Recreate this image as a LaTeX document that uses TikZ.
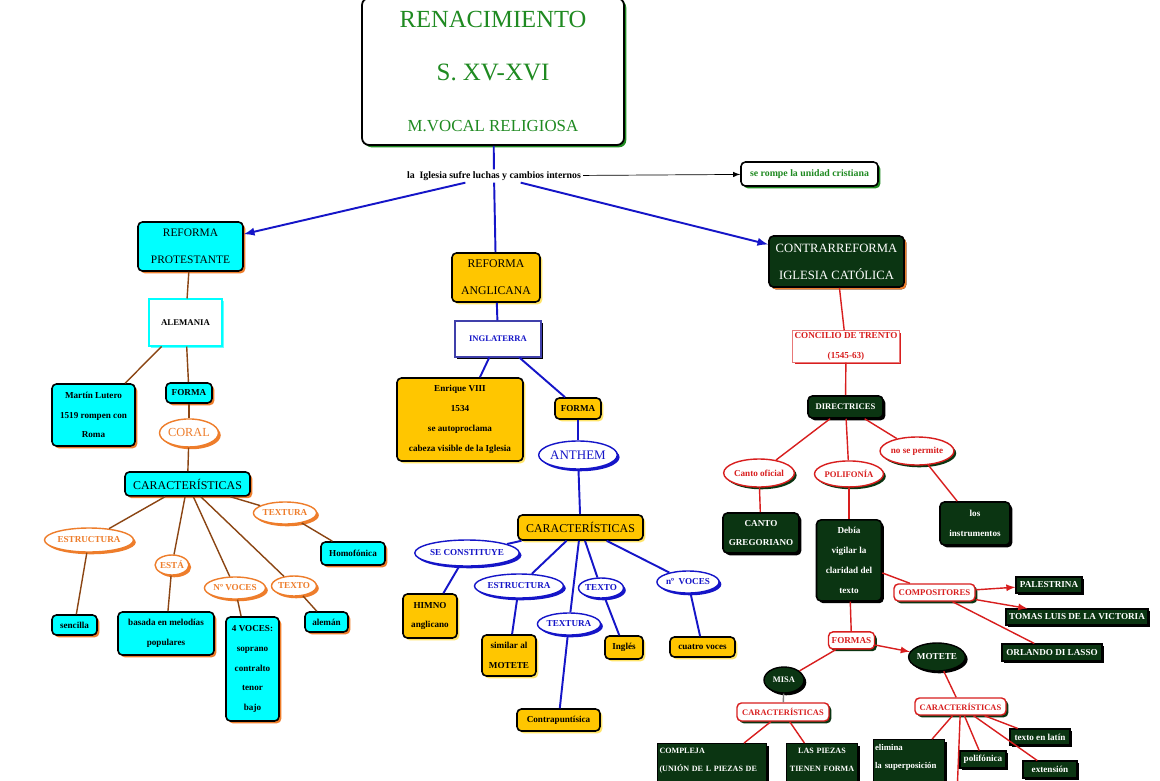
\documentclass[tikz,border=0pt]{standalone}
\usepackage{fontspec}
\setmainfont{Liberation Serif}
\usepackage{tikz}
\usetikzlibrary{shapes,arrows,shadows}
\definecolor{cian}{HTML}{00FFFF}
\definecolor{oro}{HTML}{FFC600}
\definecolor{oroclaro}{HTML}{FFE56A}
\definecolor{verdeosc}{HTML}{0B3512}
\definecolor{verdetit}{HTML}{1F8A21}
\definecolor{naranja}{HTML}{EE7D2B}
\definecolor{marron}{HTML}{8B4513}
\definecolor{azul}{HTML}{1515C8}
\definecolor{rojo}{HTML}{D81E1E}
\tikzset{sombra/.style = {drop shadow = {shadow xshift = 1.3pt, shadow yshift = -1.3pt, fill = #1, opacity = 1}}}
\tikzstyle{titulo} = [rectangle, draw, line width = 1pt, rounded corners = 4pt, fill = white, text = verdetit, align = center, sombra = verdetit]
\tikzstyle{blancoverde} = [rectangle, draw, line width = 0.9pt, rounded corners = 2.5pt, fill = white, text = verdetit, sombra = verdetit]
\tikzstyle{cianblock} = [rectangle, draw, line width = 0.9pt, rounded corners = 2.5pt, fill = cian, align = center, inner sep = 1pt, sombra = naranja]
\tikzstyle{cajacian} = [rectangle, draw = cian, line width = 0.6pt, fill = white, sombra = cian!60]
\tikzstyle{oroblock} = [rectangle, draw, line width = 0.9pt, rounded corners = 2.5pt, fill = oro, align = center, inner sep = 1pt, sombra = oroclaro]
\tikzstyle{cajaazul} = [rectangle, draw = azul!60!gray, line width = 0.6pt, fill = white, text = azul, sombra = black]
\tikzstyle{verdeblock} = [rectangle, draw, line width = 0.9pt, rounded corners = 2.5pt, fill = verdeosc, text = white, align = center, inner sep = 1pt, sombra = black]
\tikzstyle{verdecaja} = [rectangle, draw, line width = 0.6pt, fill = verdeosc, text = white, align = center, inner sep = 1pt, sombra = black]
\tikzstyle{cajaroja} = [rectangle, draw = rojo!60, line width = 0.6pt, fill = white, text = rojo, align = center, inner sep = 1pt, sombra = rojo]
\tikzstyle{rojoblock} = [rectangle, draw = rojo, line width = 0.8pt, rounded corners = 2.5pt, fill = white, text = rojo, inner sep = 1pt, sombra = verdeosc]
\tikzstyle{naranjaelipse} = [ellipse, draw = naranja, line width = 0.8pt, fill = white, text = naranja, inner sep = 0pt, sombra = naranja]
\tikzstyle{azulelipse} = [ellipse, draw = azul, line width = 0.8pt, fill = white, text = azul, inner sep = 0pt, sombra = azul]
\tikzstyle{rojoelipse} = [ellipse, draw = rojo, line width = 0.8pt, fill = white, text = rojo, inner sep = 0pt, sombra = verdeosc]
\tikzstyle{verdeelipse} = [ellipse, draw, line width = 0.8pt, fill = verdeosc, text = white, inner sep = 0pt, sombra = black]
\tikzstyle{lineamarron} = [draw = marron, line width = 0.8pt]
\tikzstyle{lineaazul} = [draw = azul, line width = 1.1pt]
\tikzstyle{linearoja} = [draw = rojo, line width = 0.8pt]
\begin{document}
\begin{tikzpicture}[x = 0.02cm, y = -0.02cm]
\tikzstyle{every node}=[font=\fontsize{5.2}{11.3}\selectfont\bfseries];
\useasboundingbox (0,0) rectangle (1160,781);
\clip (0,0) rectangle (1160,781);
\fill [white] (0,0) rectangle (1160,781);
% cabecera
\node [titulo, minimum width = 5.24cm, minimum height = 2.94cm, font = \fontsize{13}{13}\selectfont] (renacimiento) at (493,71.5) {{\fontsize{14}{14}\selectfont RENACIMIENTO}\\[17pt] {\fontsize{14.2}{14.2}\selectfont S. XV-XVI}\\[16pt] {\fontsize{9.6}{9.6}\selectfont M.VOCAL RELIGIOSA}};
\node [fill = white, inner sep = 1pt, font = \fontsize{5.6}{6}\selectfont\bfseries] (luchas) at (494,176) {la\ \ Iglesia sufre luchas y cambios internos};
\node [blancoverde, minimum width = 2.74cm, minimum height = 0.48cm, font = \fontsize{5.6}{6}\selectfont\bfseries] (unidad) at (809.5,174) {se rompe la unidad cristiana};
% reforma protestante
\node [cianblock, minimum width = 2.1cm, minimum height = 0.98cm, font = \fontsize{6.5}{15.3}\selectfont] (protestante) at (190.5,246.5) {REFORMA\\PROTESTANTE};
\node [cajacian, below of = protestante, node distance = 1.52cm, xshift = -0.1cm, minimum width = 1.46cm, minimum height = 0.94cm, font = \fontsize{5}{6}\selectfont\bfseries] (alemania) {ALEMANIA};
\node [cianblock, minimum width = 1.66cm, minimum height = 1.24cm] (lutero) at (93.5,415) {Martín Lutero\\1519 rompen con\\Roma};
\node [cianblock, below of = alemania, node distance = 1.41cm, xshift = 0.07cm, minimum width = 0.92cm, minimum height = 0.4cm] (formaprot) {FORMA};
\node [naranjaelipse, below of = formaprot, node distance = 0.8cm, minimum width = 1.04cm, minimum height = 0.56cm, font = \fontsize{7}{8}\selectfont] (coral) {CORAL};
\node [cianblock, below of = coral, node distance = 1.02cm, xshift = -0.03cm, minimum width = 2.5cm, minimum height = 0.48cm, font = \fontsize{6.8}{8}\selectfont] (caracprot) {CARACTERÍSTICAS};
\node [naranjaelipse, minimum width = 1.4cm, minimum height = 0.48cm] (estrprot) at (89,540) {ESTRUCTURA};
\node [naranjaelipse, minimum width = 0.64cm, minimum height = 0.4cm] (esta) at (172,565) {ESTÁ};
\node [naranjaelipse, minimum width = 1.04cm, minimum height = 0.44cm] (vocesprot) at (235,588) {Nº VOCES};
\node [naranjaelipse, minimum width = 0.8cm, minimum height = 0.4cm] (textoprot) at (294,586) {TEXTO};
\node [naranjaelipse, minimum width = 1.04cm, minimum height = 0.44cm] (texturaprot) at (285,513) {TEXTURA};
\node [cianblock, minimum width = 0.9cm, minimum height = 0.4cm] (sencilla) at (74.5,625) {sencilla};
\node [cianblock, minimum width = 1.92cm, minimum height = 0.86cm] (basada) at (166,633.5) {basada en melodías\\populares};
\node [cianblock, minimum width = 1.06cm, minimum height = 2.08cm] (cuatrovoces) at (252.5,669) {4 VOCES:\\soprano\\contralto\\tenor\\bajo};
\node [cianblock, minimum width = 0.86cm, minimum height = 0.4cm] (aleman) at (326.5,622) {alemán};
\node [cianblock, minimum width = 1.28cm, minimum height = 0.46cm] (homofonica) at (353,553.5) {Homofónica};
% reforma anglicana
\node [oroblock, minimum width = 1.76cm, minimum height = 0.98cm, font = \fontsize{6.7}{15.3}\selectfont] (anglicana) at (496,277.5) {REFORMA\\ANGLICANA};
\node [cajaazul, below of = anglicana, node distance = 1.23cm, xshift = 0.04cm, minimum width = 1.72cm, minimum height = 0.72cm, font = \fontsize{4.9}{6}\selectfont\bfseries] (inglaterra) {INGLATERRA};
\node [oroblock, minimum width = 2.52cm, minimum height = 1.66cm] (enrique) at (460,419.5) {Enrique VIII\\1534\\se autoproclama\\cabeza visible de la Iglesia};
\node [oroblock, minimum width = 0.92cm, minimum height = 0.42cm] (formaangl) at (578,408.5) {FORMA};
\node [azulelipse, below of = formaangl, node distance = 0.93cm, minimum width = 1.28cm, minimum height = 0.56cm, font = \fontsize{7.4}{8}\selectfont] (anthem) {ANTHEM};
\node [oroblock, below of = anthem, node distance = 1.45cm, xshift = 0.05cm, minimum width = 2.5cm, minimum height = 0.5cm, font = \fontsize{6.8}{8}\selectfont] (caracangl) {CARACTERÍSTICAS};
\node [azulelipse, minimum width = 1.6cm, minimum height = 0.52cm] (constituye) at (467,553) {SE CONSTITUYE};
\node [azulelipse, minimum width = 1.4cm, minimum height = 0.48cm] (estrangl) at (519,586) {ESTRUCTURA};
\node [azulelipse, minimum width = 1.04cm, minimum height = 0.44cm] (texturaangl) at (569,624) {TEXTURA};
\node [azulelipse, minimum width = 0.8cm, minimum height = 0.4cm] (textoangl) at (601,588) {TEXTO};
\node [azulelipse, minimum width = 1.12cm, minimum height = 0.44cm] (vocesangl) at (688,582) {nº\ \ VOCES};
\node [oroblock, minimum width = 1.08cm, minimum height = 0.88cm] (himno) at (430,616) {HIMNO\\anglicano};
\node [oroblock, minimum width = 1.08cm, minimum height = 0.82cm] (similar) at (509,655.5) {similar al\\MOTETE};
\node [oroblock, minimum width = 1.66cm, minimum height = 0.44cm] (contrapuntistica) at (558.5,720) {Contrapuntísica};
\node [oroblock, minimum width = 0.76cm, minimum height = 0.46cm] (ingles) at (624,647.5) {Inglés};
\node [oroblock, minimum width = 1.3cm, minimum height = 0.4cm] (cuatroangl) at (702.5,647) {cuatro voces};
% contrarreforma
\node [verdeblock, sombra = naranja, minimum width = 2.7cm, minimum height = 1.02cm, font = \fontsize{7.2}{15.3}\selectfont] (contrarreforma) at (836.5,261.5) {CONTRARREFORMA\\IGLESIA CATÓLICA};
\node [cajaroja, below of = contrarreforma, node distance = 1.7cm, xshift = 0.19cm, minimum width = 2.12cm, minimum height = 0.62cm] (concilio) {CONCILIO DE TRENTO\\(1545-63)};
\node [verdeblock, below of = concilio, node distance = 1.21cm, xshift = -0.01cm, minimum width = 1.5cm, minimum height = 0.44cm, font = \fontsize{4.9}{6}\selectfont\bfseries] (directrices) {DIRECTRICES};
\node [rojoelipse, minimum width = 1.28cm, minimum height = 0.56cm] (cantooficial) at (759,473) {Canto oficial};
\node [rojoelipse, below of = directrices, node distance = 1.34cm, xshift = 0.07cm, minimum width = 1.16cm, minimum height = 0.52cm, font = \fontsize{4.9}{6}\selectfont\bfseries] (polifonia) {POLIFONÍA};
\node [rojoelipse, minimum width = 1.36cm, minimum height = 0.56cm] (nopermite) at (917,451) {no se permite};
\node [verdeblock, minimum width = 1.52cm, minimum height = 0.8cm] (gregoriano) at (761,533) {CANTO\\GREGORIANO};
\node [verdeblock, below of = polifonia, node distance = 1.73cm, minimum width = 1.3cm, minimum height = 1.62cm] (claridad) {Debía\\vigilar la\\claridad del\\texto};
\node [verdeblock, minimum width = 1.4cm, minimum height = 0.86cm] (instrumentos) at (975,523.5) {los\\instrumentos};
\node [rojoblock, minimum width = 1.62cm, minimum height = 0.34cm, font = \fontsize{5}{6}\selectfont\bfseries] (compositores) at (934.5,592.5) {COMPOSITORES};
\node [verdecaja, minimum width = 1.32cm, minimum height = 0.32cm] (palestrina) at (1049,585) {PALESTRINA};
\node [verdecaja, minimum width = 2.84cm, minimum height = 0.32cm] (victoria) at (1077,617) {TOMAS LUIS DE LA VICTORIA};
\node [verdecaja, minimum width = 2cm, minimum height = 0.34cm] (lasso) at (1052,652.5) {ORLANDO DI LASSO};
\node [rojoblock, below of = claridad, node distance = 1.6cm, xshift = 0.05cm, minimum width = 0.92cm, minimum height = 0.34cm] (formas) {FORMAS};
\node [verdeelipse, minimum width = 0.8cm, minimum height = 0.52cm, font = \fontsize{4.8}{6}\selectfont\bfseries] (misa) at (784,680) {MISA};
\node [verdeelipse, minimum width = 1.08cm, minimum height = 0.56cm] (motete) at (937,657) {MOTETE};
\node [rojoblock, minimum width = 1.84cm, minimum height = 0.36cm, font = \fontsize{4.8}{6}\selectfont\bfseries] (caracmisa) at (783,712) {CARACTERÍSTICAS};
\node [rojoblock, minimum width = 1.82cm, minimum height = 0.34cm, font = \fontsize{4.8}{6}\selectfont\bfseries] (caracmotete) at (960.5,706.5) {CARACTERÍSTICAS};
\node [verdecaja, anchor = north, align = left, text width = 2.1cm, inner ysep = 2.5pt, font = \fontsize{4.6}{10.2}\selectfont\bfseries] (compleja) at (712,743) {COMPLEJA\\(UNIÓN DE L PIEZAS DE\\~};
\node [verdecaja, anchor = north, text width = 1.36cm, inner ysep = 2.5pt, font = \fontsize{4.6}{10.2}\selectfont\bfseries] (piezas) at (822,743) {LAS PIEZAS\\TIENEN FORMA\\~};
\node [verdecaja, anchor = north, align = left, text width = 1.36cm, inner ysep = 2.5pt, font = \fontsize{5}{10.6}\selectfont\bfseries] (elimina) at (909,739) {elimina\\la superposición\\~};
\node [verdecaja, minimum width = 0.92cm, minimum height = 0.34cm] (polifonica) at (983,759.5) {polifónica};
\node [verdecaja, minimum width = 1.2cm, minimum height = 0.32cm] (latin) at (1040,737) {texto en latín};
\node [verdecaja, minimum width = 1.08cm, minimum height = 0.34cm] (extension) at (1050,769.5) {extensión};
\coordinate (finmotete) at (957,795);
% conectores
\draw [lineaazul] (renacimiento) -- (luchas);
\draw [lineaazul] (luchas) -- (anglicana);
\draw [lineaazul, -latex] (luchas) -- (protestante);
\draw [lineaazul, -latex] (luchas) -- (contrarreforma);
\draw [-latex, thin] (luchas) -- (unidad);
\draw [lineamarron] (protestante) -- (alemania);
\draw [lineamarron] (alemania) -- (lutero);
\draw [lineamarron] (alemania) -- (formaprot);
\draw [lineamarron] (formaprot) -- (coral);
\draw [lineamarron] (coral) -- (caracprot);
\draw [lineamarron] (caracprot) -- (estrprot);
\draw [lineamarron] (caracprot) -- (esta);
\draw [lineamarron] (caracprot) -- (vocesprot);
\draw [lineamarron] (caracprot) -- (textoprot);
\draw [lineamarron] (caracprot) -- (texturaprot);
\draw [lineamarron] (estrprot) -- (sencilla);
\draw [lineamarron] (esta) -- (basada);
\draw [lineamarron] (vocesprot) -- (cuatrovoces);
\draw [lineamarron] (textoprot) -- (aleman);
\draw [lineamarron] (texturaprot) -- (homofonica);
\draw [lineaazul] (anglicana) -- (inglaterra);
\draw [lineaazul] (inglaterra) -- (enrique);
\draw [lineaazul] (inglaterra) -- (formaangl);
\draw [lineaazul] (formaangl) -- (anthem);
\draw [lineaazul] (anthem) -- (caracangl);
\draw [lineaazul] (caracangl) -- (constituye);
\draw [lineaazul] (caracangl) -- (estrangl);
\draw [lineaazul] (caracangl) -- (texturaangl);
\draw [lineaazul] (caracangl) -- (textoangl);
\draw [lineaazul] (caracangl) -- (vocesangl);
\draw [lineaazul] (constituye) -- (himno);
\draw [lineaazul] (estrangl) -- (similar);
\draw [lineaazul] (texturaangl) -- (contrapuntistica);
\draw [lineaazul] (textoangl) -- (ingles);
\draw [lineaazul] (vocesangl) -- (cuatroangl);
\draw [linearoja] (contrarreforma) -- (concilio);
\draw [linearoja] (concilio) -- (directrices);
\draw [linearoja] (directrices) -- (cantooficial);
\draw [linearoja] (directrices) -- (polifonia);
\draw [linearoja] (directrices) -- (nopermite);
\draw [linearoja] (cantooficial) -- (gregoriano);
\draw [linearoja] (polifonia) -- (claridad);
\draw [linearoja] (nopermite) -- (instrumentos);
\draw [linearoja] (claridad) -- (compositores);
\draw [linearoja, -latex] (compositores) -- (palestrina);
\draw [linearoja, -latex] (compositores) -- (victoria);
\draw [linearoja] (compositores) -- (lasso);
\draw [linearoja] (claridad) -- (formas);
\draw [linearoja] (formas) -- (misa);
\draw [linearoja, -latex] (formas) -- (motete);
\draw [gray, line width = 0.8pt] (misa) -- (caracmisa);
\draw [linearoja] (caracmisa) -- (compleja);
\draw [linearoja] (caracmisa) -- (piezas);
\draw [linearoja] (motete) -- (caracmotete);
\draw [linearoja] (caracmotete) -- (elimina);
\draw [linearoja] (caracmotete) -- (finmotete);
\draw [linearoja] (caracmotete) -- (polifonica);
\draw [linearoja] (caracmotete) -- (latin);
\draw [linearoja] (caracmotete) -- (extension);
\end{tikzpicture}
\end{document}
